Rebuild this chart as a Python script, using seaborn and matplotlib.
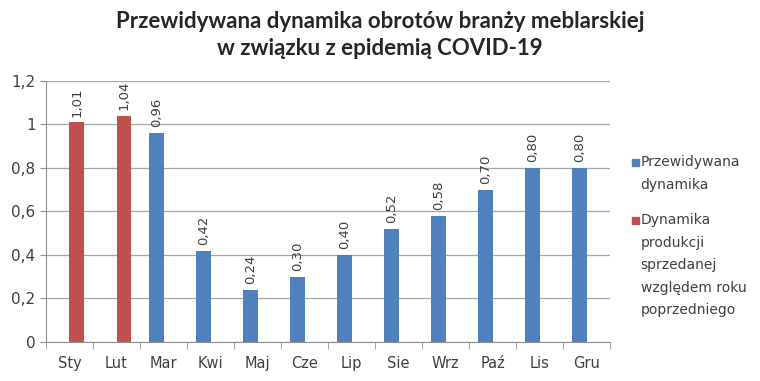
import pandas as pd
import matplotlib.pyplot as plt
import matplotlib.patches as mpatches
import seaborn as sns
import numpy as np

# data
months = ['Sty', 'Lut', 'Mar', 'Kwi', 'Maj', 'Cze', 'Lip', 'Sie', 'Wrz', 'Paź', 'Lis', 'Gru']
forecast_months = ['Mar', 'Kwi', 'Maj', 'Cze', 'Lip', 'Sie', 'Wrz', 'Paź', 'Lis', 'Gru']
forecast = [0.96, 0.42, 0.24, 0.30, 0.40, 0.52, 0.58, 0.70, 0.80, 0.80]
actual_months = ['Sty', 'Lut']
actual = [1.01, 1.04]
series = ['Przewidywana\ndynamika',
          'Dynamika\nprodukcji\nsprzedanej\nwzględem roku\npoprzedniego']

df = pd.concat([
    pd.DataFrame({'miesiac': forecast_months, 'wartosc': forecast, 'seria': series[0]}),
    pd.DataFrame({'miesiac': actual_months, 'wartosc': actual, 'seria': series[1]}),
])

sns.set_style('white')
plt.rcParams['font.family'] = ['DejaVu Sans']
grey = '#404040'
my_cols = {series[0]: '#4F81BD', series[1]: '#C0504D'}

fig = plt.figure(figsize=(7.6, 3.81), dpi=100)
ax = fig.add_axes([0.0605, 0.1024, 0.7425, 0.6856])
sns.barplot(data=df, x='miesiac', y='wartosc', hue='seria', order=months,
            hue_order=series, palette=my_cols, width=0.62, dodge=True,
            saturation=1, linewidth=0, legend=False, ax=ax)

for cont in ax.containers:
    ax.bar_label(cont, fmt=lambda v: f'{v:.2f}'.replace('.', ','), rotation=90,
                 padding=4, fontsize=9.5, color=grey)

ax.set_ylim(0, 1.2)
ax.set_xlim(-0.5, 11.5)
ax.set_yticks(np.arange(0, 1.21, 0.2))
ax.set_yticklabels(['0', '0,2', '0,4', '0,6', '0,8', '1', '1,2'])
ax.yaxis.grid(True, color='#a6a6a6', linewidth=0.9)
ax.set_axisbelow(True)
ax.set(xlabel=None, ylabel=None)
for s in ['top', 'right']:
    ax.spines[s].set_visible(False)
for s in ['left', 'bottom']:
    ax.spines[s].set_color('#909090')
ax.set_xticks(np.arange(-0.5, 12, 1), minor=True)
ax.tick_params(axis='x', which='major', length=0, labelsize=10.5, labelcolor=grey, pad=10)
ax.tick_params(axis='x', which='minor', length=5, color='#909090', direction='out', bottom=True)
ax.tick_params(axis='y', length=4, color='#909090', labelsize=11, labelcolor=grey, left=True)

# legend drawn by hand so the marker sits on the first line
leg_tops = [0.593, 0.441]
for name, top in zip(series, leg_tops):
    fig.patches.append(mpatches.Rectangle((0.832, top - 0.029), 0.0092, 0.018,
                                          color=my_cols[name], transform=fig.transFigure))
    fig.text(0.843, top, name, ha='left', va='top', fontsize=10, color=grey,
             linespacing=1.78)

fig.text(0.5, 0.97, 'Przewidywana dynamika obrotów branży meblarskiej\nw związku z epidemią COVID-19',
         ha='center', va='top', fontsize=16, fontweight='bold', family='Lato',
         color='#262626', linespacing=1.3)

plt.savefig('out.png', dpi=100)
